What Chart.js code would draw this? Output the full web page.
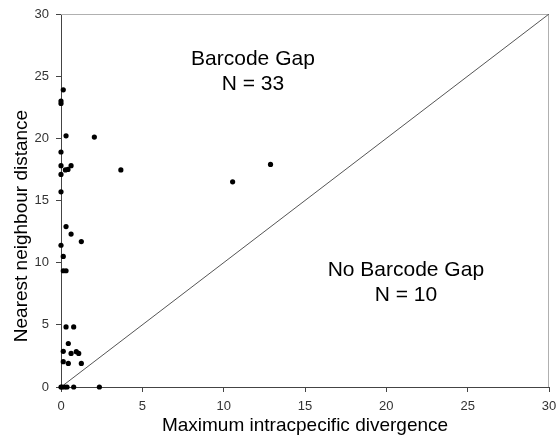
<!DOCTYPE html>
<html>
<head>
<meta charset="utf-8">
<script src="https://cdn.jsdelivr.net/npm/chart.js@4/dist/chart.umd.min.js"></script>
<style>
  html, body { margin: 0; padding: 0; background: #fff; }
  #wrap { width: 556px; height: 435px; position: relative; }
</style>
</head>
<body>
<div id="wrap"><canvas id="c" width="556" height="435"></canvas></div>
<script>
// Maximum intraspecific divergence (x) and nearest neighbour distance (y)
const intraDivergence = [
  0.14, 0, 0, 0.31, 2.05, 0, 0, 0.27, 0.43, 0.62, 0, 3.68, 10.55, 12.88,
  0, 0.31, 0.62, 1.25, 0, 0.14, 0.14, 0.31,
  0.31, 0.78, 0.45, 0.14, 0.62, 0.94, 1.09, 0.14, 0.45, 1.25,
  0, 0.06, 0.23, 0.37, 0.78, 2.36
];
const nearestNeighbour = [
  23.9, 23.0, 22.8, 20.2, 20.1, 18.9, 17.8, 17.46, 17.5, 17.8, 17.1, 17.46, 16.5, 17.9,
  15.7, 12.9, 12.3, 11.7, 11.4, 10.5, 9.35, 9.35,
  4.83, 4.83, 3.5, 2.87, 2.7, 2.84, 2.7, 2.04, 1.9, 1.9,
  0, 0, 0, 0, 0, 0
];
const diagonalX = [0, 30];
const diagonalY = [0, 30];
const xTicks = [0, 5, 10, 15, 20, 25, 30];
const yTicks = [0, 5, 10, 15, 20, 25, 30];
const annotations = [
  { lines: ["Barcode Gap", "N = 33"], x: 11.8, y: 25.9 },
  { lines: ["No Barcode Gap", "N = 10"], x: 21.2, y: 8.9 }
];
const xTitle = "Maximum intracpecific divergence";
const yTitle = "Nearest neighbour distance";

const FONT = "'Liberation Sans', Arial, sans-serif";

const points = intraDivergence.map((x, i) => ({ x: x, y: nearestNeighbour[i] }));
const diag = diagonalX.map((x, i) => ({ x: x, y: diagonalY[i] }));

const decor = {
  id: 'decor',
  beforeDatasetsDraw(chart) {
    const { ctx, chartArea: a } = chart;
    ctx.save();
    ctx.strokeStyle = '#b0b0b0';
    ctx.lineWidth = 1;
    ctx.beginPath();
    ctx.moveTo(a.left, a.top + 0.5);
    ctx.lineTo(a.right - 0.5, a.top + 0.5);
    ctx.lineTo(a.right - 0.5, a.bottom);
    ctx.stroke();
    ctx.restore();
  },
  afterDraw(chart) {
    const { ctx, scales } = chart;
    const xs = scales.x, ys = scales.y;
    ctx.save();
    ctx.fillStyle = '#000';
    ctx.textAlign = 'center';
    ctx.textBaseline = 'alphabetic';
    ctx.font = '21px ' + FONT;
    annotations.forEach(an => {
      const px = xs.getPixelForValue(an.x);
      const py = ys.getPixelForValue(an.y);
      an.lines.forEach((t, k) => ctx.fillText(t, px, py + k * 25));
    });
    ctx.font = '19px ' + FONT;
    ctx.fillText(xTitle, (chart.chartArea.left + chart.chartArea.right) / 2, 431);
    ctx.translate(27, 226);
    ctx.rotate(-Math.PI / 2);
    ctx.fillText(yTitle, 0, 0);
    ctx.restore();
  }
};

new Chart(document.getElementById('c'), {
  type: 'scatter',
  data: {
    datasets: [
      {
        label: 'species',
        data: points,
        backgroundColor: '#000',
        borderColor: '#000',
        pointRadius: 2.6,
        pointHoverRadius: 2.6,
        borderWidth: 0,
        clip: false
      },
      {
        label: 'x = y',
        data: diag,
        showLine: true,
        borderColor: '#555',
        borderWidth: 1,
        pointRadius: 0,
        fill: false
      }
    ]
  },
  options: {
    responsive: false,
    animation: false,
    events: [],
    layout: { padding: { top: 14, right: 7, left: 0, bottom: 0 } },
    plugins: { legend: { display: false }, tooltip: { enabled: false } },
    scales: {
      x: {
        type: 'linear',
        min: 0, max: 30,
        afterBuildTicks: s => { s.ticks = xTicks.map(v => ({ value: v })); },
        afterFit: s => { s.height = 48; s.paddingLeft = 0; s.paddingRight = 0; },
        grid: { drawOnChartArea: false, drawTicks: true, tickLength: 5, color: '#444' },
        border: { color: '#444', width: 1 },
        ticks: { color: '#333', font: { family: FONT, size: 13 }, padding: 7, maxRotation: 0 }
      },
      y: {
        type: 'linear',
        min: 0, max: 30,
        afterBuildTicks: s => { s.ticks = yTicks.map(v => ({ value: v })); },
        afterFit: s => { s.width = 61; s.paddingTop = 0; s.paddingBottom = 0; },
        grid: { drawOnChartArea: false, drawTicks: true, tickLength: 5, color: '#444' },
        border: { color: '#444', width: 1 },
        ticks: { color: '#333', font: { family: FONT, size: 13 }, padding: 7 }
      }
    }
  },
  plugins: [decor]
});
</script>
</body>
</html>
